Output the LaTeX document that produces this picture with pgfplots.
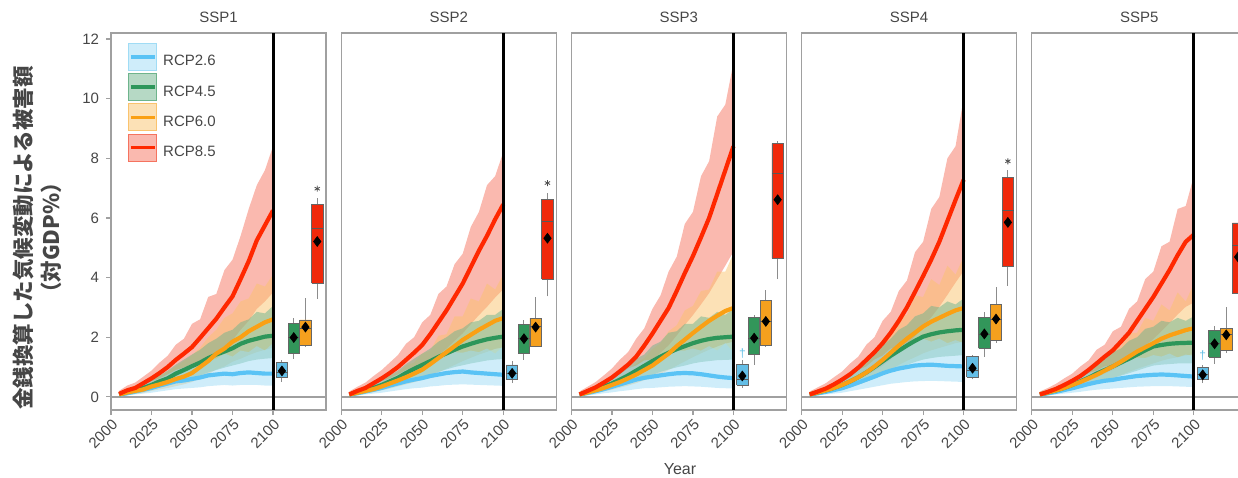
\documentclass[border=0pt]{standalone}
\usepackage{pgfplots}
\pgfplotsset{compat=1.18}
\usepackage{pgfplotstable}
\usepgfplotslibrary{fillbetween}
\usepackage{fontspec}
\setmainfont{Liberation Sans}
\newfontfamily\cjk{Noto Sans CJK JP}

\definecolor{l26}{RGB}{90,195,245}
\definecolor{l45}{RGB}{45,150,90}
\definecolor{l60}{RGB}{250,160,20}
\definecolor{l85}{RGB}{255,40,0}
\definecolor{b26}{RGB}{160,220,245}
\definecolor{b45}{RGB}{110,180,140}
\definecolor{b60}{RGB}{250,195,110}
\definecolor{b85}{RGB}{245,115,95}
\definecolor{x26}{RGB}{100,190,230}
\definecolor{x45}{RGB}{50,150,90}
\definecolor{x60}{RGB}{245,160,30}
\definecolor{x85}{RGB}{240,40,10}
\definecolor{txt}{RGB}{70,70,70}
\definecolor{frame}{RGB}{160,160,160}

% yr, then mean / low / high for RCP2.6, 4.5, 6.0, 8.5
\pgfplotstableread{
yr m26 l26 h26 m45 l45 h45 m60 l60 h60 m85 l85 h85
2005 0.07 0.02 0.15 0.08 0.03 0.15 0.08 0.03 0.16 0.10 0.04 0.20
2010 0.12 0.05 0.25 0.16 0.08 0.26 0.15 0.07 0.28 0.22 0.10 0.38
2015 0.18 0.08 0.34 0.22 0.12 0.35 0.20 0.10 0.38 0.30 0.16 0.48
2020 0.24 0.11 0.40 0.30 0.17 0.45 0.25 0.13 0.45 0.46 0.26 0.68
2025 0.30 0.14 0.52 0.40 0.24 0.58 0.35 0.20 0.58 0.62 0.36 0.88
2030 0.38 0.18 0.62 0.52 0.32 0.72 0.42 0.25 0.70 0.80 0.45 1.15
2035 0.45 0.22 0.75 0.62 0.38 0.88 0.50 0.30 0.85 1.00 0.58 1.38
2040 0.52 0.26 0.90 0.78 0.48 1.08 0.60 0.36 1.02 1.24 0.70 1.75
2045 0.55 0.28 0.98 0.90 0.55 1.25 0.68 0.42 1.20 1.45 0.82 1.95
2050 0.60 0.30 1.10 1.03 0.64 1.42 0.80 0.50 1.40 1.67 0.95 2.45
2055 0.65 0.32 1.12 1.15 0.72 1.58 1.00 0.62 1.65 1.98 1.12 2.60
2060 0.72 0.36 1.30 1.30 0.82 1.80 1.20 0.76 2.00 2.30 1.30 3.35
2065 0.75 0.38 1.28 1.42 0.90 1.95 1.45 0.92 2.25 2.62 1.48 3.45
2070 0.78 0.40 1.45 1.52 0.98 2.15 1.62 1.02 2.65 3.00 1.70 4.25
2075 0.76 0.38 1.35 1.63 1.05 2.25 1.85 1.18 2.80 3.37 1.90 4.60
2080 0.80 0.40 1.55 1.78 1.12 2.50 2.00 1.28 3.20 3.95 2.25 5.40
2085 0.82 0.40 1.50 1.88 1.20 2.60 2.20 1.40 3.30 4.55 2.55 6.30
2090 0.80 0.40 1.70 1.95 1.25 2.85 2.35 1.50 3.80 5.25 2.95 7.10
2095 0.78 0.38 1.55 2.02 1.28 2.80 2.50 1.58 3.70 5.75 3.20 7.60
2100 0.78 0.38 1.80 2.05 1.30 3.05 2.60 1.65 4.10 6.25 3.50 8.40
}\sspone

\pgfplotstableread{
yr m26 l26 h26 m45 l45 h45 m60 l60 h60 m85 l85 h85
2005 0.07 0.02 0.15 0.08 0.03 0.15 0.08 0.03 0.15 0.08 0.04 0.18
2010 0.12 0.05 0.25 0.15 0.08 0.25 0.14 0.08 0.24 0.20 0.10 0.34
2015 0.18 0.08 0.34 0.22 0.12 0.34 0.20 0.12 0.30 0.30 0.16 0.48
2020 0.24 0.11 0.40 0.30 0.17 0.45 0.26 0.16 0.40 0.46 0.26 0.70
2025 0.30 0.14 0.52 0.40 0.24 0.58 0.35 0.22 0.52 0.62 0.35 0.90
2030 0.38 0.18 0.62 0.52 0.32 0.72 0.45 0.28 0.70 0.80 0.45 1.15
2035 0.45 0.22 0.75 0.64 0.40 0.88 0.55 0.35 0.80 1.00 0.56 1.40
2040 0.52 0.26 0.90 0.80 0.50 1.10 0.66 0.42 1.05 1.24 0.70 1.78
2045 0.58 0.29 0.98 0.94 0.59 1.28 0.78 0.49 1.15 1.48 0.83 2.00
2050 0.63 0.31 1.10 1.07 0.67 1.45 0.91 0.57 1.45 1.74 0.97 2.50
2055 0.70 0.35 1.18 1.20 0.75 1.62 1.10 0.69 1.55 2.10 1.18 2.75
2060 0.75 0.37 1.35 1.34 0.84 1.85 1.30 0.82 2.05 2.50 1.40 3.45
2065 0.80 0.40 1.38 1.46 0.92 2.00 1.50 0.95 2.10 2.90 1.62 3.70
2070 0.83 0.41 1.50 1.58 1.00 2.20 1.70 1.07 2.70 3.35 1.88 4.45
2075 0.85 0.42 1.48 1.69 1.06 2.30 1.91 1.20 2.70 3.80 2.13 4.80
2080 0.82 0.41 1.55 1.78 1.12 2.50 2.08 1.31 3.30 4.35 2.44 5.70
2085 0.80 0.40 1.50 1.86 1.17 2.55 2.25 1.42 3.20 4.90 2.74 6.20
2090 0.78 0.39 1.62 1.93 1.22 2.75 2.40 1.51 3.80 5.40 3.02 7.10
2095 0.76 0.38 1.45 1.98 1.25 2.75 2.55 1.61 3.60 5.95 3.33 7.40
2100 0.74 0.37 1.70 2.02 1.27 2.95 2.64 1.66 4.10 6.45 3.60 8.20
}\ssptwo

\pgfplotstableread{
yr m26 l26 h26 m45 l45 h45 m60 l60 h60 m85 l85 h85
2005 0.07 0.02 0.15 0.08 0.03 0.15 0.08 0.03 0.15 0.08 0.04 0.18
2010 0.13 0.05 0.25 0.16 0.08 0.26 0.15 0.08 0.25 0.20 0.11 0.34
2015 0.19 0.08 0.36 0.24 0.14 0.36 0.22 0.13 0.33 0.32 0.18 0.50
2020 0.26 0.12 0.45 0.34 0.20 0.50 0.30 0.18 0.45 0.48 0.28 0.72
2025 0.34 0.15 0.65 0.45 0.27 0.62 0.40 0.24 0.58 0.65 0.38 0.95
2030 0.42 0.19 0.75 0.58 0.36 0.84 0.50 0.31 0.75 0.86 0.50 1.25
2035 0.50 0.22 0.95 0.72 0.45 0.98 0.62 0.38 0.88 1.08 0.63 1.50
2040 0.58 0.26 1.05 0.88 0.55 1.28 0.75 0.46 1.12 1.35 0.78 1.95
2045 0.64 0.29 1.22 1.04 0.64 1.42 0.90 0.56 1.30 1.72 1.00 2.30
2050 0.68 0.30 1.25 1.20 0.74 1.72 1.05 0.65 1.60 2.12 1.23 2.95
2055 0.72 0.32 1.38 1.35 0.84 1.85 1.25 0.77 1.80 2.55 1.48 3.40
2060 0.76 0.34 1.42 1.48 0.92 2.15 1.45 0.90 2.20 2.98 1.73 4.20
2065 0.79 0.35 1.55 1.60 0.99 2.20 1.70 1.05 2.40 3.55 2.06 4.70
2070 0.80 0.36 1.55 1.70 1.05 2.45 1.92 1.19 2.90 4.15 2.41 5.80
2075 0.79 0.35 1.62 1.80 1.12 2.45 2.14 1.33 3.05 4.72 2.74 6.20
2080 0.76 0.34 1.55 1.88 1.17 2.70 2.35 1.46 3.55 5.35 3.10 7.40
2085 0.72 0.32 1.70 1.94 1.20 2.65 2.55 1.58 3.60 6.00 3.48 7.90
2090 0.68 0.30 1.55 1.98 1.23 2.85 2.72 1.69 4.20 6.80 3.94 9.40
2095 0.65 0.29 1.80 2.00 1.24 2.75 2.88 1.79 4.20 7.60 4.40 9.80
2100 0.63 0.28 1.50 2.02 1.25 2.95 2.98 1.85 4.80 8.40 4.87 11.20
}\sspthree

\pgfplotstableread{
yr m26 l26 h26 m45 l45 h45 m60 l60 h60 m85 l85 h85
2005 0.07 0.02 0.15 0.08 0.03 0.15 0.08 0.03 0.15 0.08 0.04 0.18
2010 0.12 0.05 0.22 0.15 0.08 0.24 0.15 0.08 0.24 0.18 0.10 0.32
2015 0.17 0.08 0.32 0.22 0.13 0.33 0.22 0.13 0.33 0.28 0.16 0.46
2020 0.23 0.11 0.40 0.30 0.18 0.45 0.30 0.18 0.48 0.42 0.24 0.66
2025 0.29 0.14 0.55 0.40 0.25 0.58 0.40 0.25 0.58 0.58 0.34 0.85
2030 0.38 0.19 0.66 0.52 0.32 0.76 0.52 0.32 0.82 0.76 0.44 1.12
2035 0.48 0.24 0.90 0.66 0.41 0.95 0.66 0.41 0.95 0.98 0.57 1.35
2040 0.58 0.29 1.02 0.82 0.51 1.20 0.82 0.51 1.30 1.24 0.72 1.75
2045 0.68 0.34 1.25 1.00 0.62 1.42 1.02 0.63 1.45 1.50 0.87 2.00
2050 0.79 0.39 1.38 1.19 0.74 1.72 1.24 0.77 1.95 1.80 1.04 2.55
2055 0.88 0.44 1.62 1.38 0.86 1.95 1.48 0.92 2.10 2.15 1.25 2.85
2060 0.95 0.47 1.65 1.55 0.96 2.25 1.72 1.07 2.70 2.55 1.48 3.55
2065 1.00 0.50 1.82 1.72 1.07 2.40 1.95 1.21 2.75 3.00 1.74 3.90
2070 1.05 0.52 1.80 1.88 1.17 2.70 2.15 1.33 3.40 3.52 2.04 4.85
2075 1.07 0.53 1.95 2.02 1.25 2.80 2.36 1.46 3.35 4.05 2.35 5.20
2080 1.08 0.54 1.85 2.10 1.30 3.05 2.52 1.56 3.95 4.60 2.67 6.30
2085 1.06 0.53 1.95 2.16 1.34 3.00 2.65 1.64 3.75 5.20 3.02 6.70
2090 1.04 0.52 1.80 2.20 1.36 3.20 2.78 1.72 4.40 5.90 3.42 8.00
2095 1.03 0.51 1.90 2.23 1.38 3.10 2.90 1.80 4.10 6.60 3.83 8.40
2100 1.02 0.50 1.80 2.25 1.40 3.30 2.98 1.85 4.70 7.28 4.22 10.00
}\sspfour

\pgfplotstableread{
yr m26 l26 h26 m45 l45 h45 m60 l60 h60 m85 l85 h85
2005 0.07 0.02 0.15 0.08 0.03 0.15 0.08 0.03 0.15 0.08 0.04 0.18
2010 0.12 0.05 0.22 0.15 0.08 0.24 0.15 0.08 0.24 0.17 0.09 0.30
2015 0.17 0.08 0.32 0.22 0.13 0.33 0.22 0.13 0.33 0.27 0.15 0.44
2020 0.23 0.11 0.40 0.30 0.18 0.45 0.30 0.18 0.46 0.40 0.23 0.62
2025 0.29 0.14 0.52 0.40 0.25 0.56 0.40 0.25 0.58 0.54 0.31 0.78
2030 0.36 0.17 0.62 0.52 0.32 0.76 0.50 0.31 0.78 0.70 0.41 1.02
2035 0.43 0.21 0.80 0.64 0.40 0.90 0.62 0.38 0.88 0.90 0.52 1.22
2040 0.49 0.24 0.88 0.78 0.48 1.15 0.74 0.46 1.15 1.12 0.65 1.58
2045 0.54 0.26 1.02 0.90 0.56 1.28 0.88 0.55 1.25 1.35 0.78 1.75
2050 0.57 0.28 1.05 1.02 0.63 1.50 1.02 0.63 1.62 1.56 0.90 2.20
2055 0.62 0.30 1.18 1.15 0.71 1.62 1.18 0.73 1.68 1.85 1.07 2.35
2060 0.66 0.32 1.20 1.28 0.79 1.88 1.35 0.84 2.15 2.15 1.25 2.95
2065 0.70 0.34 1.32 1.42 0.88 2.00 1.52 0.94 2.15 2.55 1.48 3.20
2070 0.72 0.35 1.30 1.56 0.97 2.28 1.66 1.03 2.65 2.95 1.71 3.95
2075 0.74 0.36 1.40 1.69 1.05 2.35 1.80 1.12 2.55 3.35 1.94 4.20
2080 0.75 0.36 1.35 1.74 1.08 2.55 1.95 1.21 3.10 3.80 2.20 5.05
2085 0.74 0.36 1.45 1.78 1.10 2.50 2.06 1.28 2.90 4.25 2.47 5.20
2090 0.72 0.35 1.32 1.80 1.12 2.65 2.15 1.33 3.50 4.75 2.76 6.30
2095 0.70 0.34 1.42 1.81 1.12 2.55 2.24 1.39 3.20 5.20 3.02 6.40
2100 0.68 0.33 1.35 1.82 1.13 2.70 2.30 1.43 3.80 5.44 3.16 7.40
}\sspfive

% x axis runs in years after 2000
\pgfplotsset{
  panel/.style={
    scale only axis, width=107.5pt, height=188.5pt,
    xmin=0, xmax=132.7, ymin=-0.44, ymax=12.2,
    axis line style={frame, line width=0.6pt},
    xtick={0,25,50,75,100},
    xticklabels={2000,2025,2050,2075,2100},
    xtick pos=left, ytick pos=left,
    tick align=outside, major tick length=2.5pt,
    every tick/.style={frame, line width=0.6pt},
    tick label style={font=\fontsize{7.5}{8}\selectfont, text=txt},
    xticklabel style={rotate=45, anchor=north east, inner sep=1pt},
    /pgf/number format/assume math mode=true,
    title style={font=\fontsize{7.5}{8}\selectfont, text=txt, at={(0.5,1)}, anchor=base, yshift=-1pt},
  },
}

\newcommand{\band}[3]{%
  \addplot[name path=hi#2, draw=none, forget plot] table[x expr=\thisrow{yr}-2000, y=h#2] {#1};
  \addplot[name path=lo#2, draw=none, forget plot] table[x expr=\thisrow{yr}-2000, y=l#2] {#1};
  \addplot[fill=#3, fill opacity=0.5, draw=none, forget plot] fill between[of=hi#2 and lo#2];
}
\newcommand{\mline}[3]{%
  \addplot[#3, line width=2.1pt, line join=round, forget plot] table[x expr=\thisrow{yr}-2000, y=m#2] {#1};
}
\newcommand{\series}[1]{%
  \addplot[frame, line width=1pt, forget plot] coordinates {(0,0) (132.7,0)};
  \band{#1}{85}{b85}\band{#1}{60}{b60}\band{#1}{45}{b45}\band{#1}{26}{b26}
  \mline{#1}{26}{l26}\mline{#1}{45}{l45}\mline{#1}{60}{l60}\mline{#1}{85}{l85}
  \addplot[black, line width=1.5pt, forget plot] coordinates {(100,-0.44) (100,12.2)};
}
% box: left, centre, right, colour, lower whisker, lower quartile, median, upper quartile, upper whisker
\newcommand{\bx}[9]{%
  \addplot[black!45, line width=0.5pt, forget plot] coordinates {(#2,#5) (#2,#6)};
  \addplot[black!45, line width=0.5pt, forget plot] coordinates {(#2,#8) (#2,#9)};
  \addplot[fill=#4, draw=black!60, line width=0.4pt, forget plot] coordinates {(#1,#6) (#3,#6) (#3,#8) (#1,#8) (#1,#6)};
  \addplot[black!65, line width=0.4pt, forget plot] coordinates {(#1,#7) (#3,#7)};
}
\newcommand{\means}[4]{%
  \addplot[only marks, mark=diamond*, mark size=2.4pt, black, forget plot] coordinates {(105.5,#1) (112.8,#2) (120.0,#3) (127.3,#4)};
}

\begin{document}
\begin{tikzpicture}

\begin{axis}[panel, at={(55.5pt,33.5pt)}, anchor=south west, title={SSP1},
  ytick={0,2,4,6,8,10,12},
  legend cell align=left,
  legend style={at={(0.079,0.9745)}, anchor=north west, draw=none, fill=none,
    inner sep=0pt, row sep=1.2pt, font=\fontsize{7.5}{8}\selectfont, text=txt,
    nodes={inner xsep=3pt, inner ysep=0pt}}]
\addlegendimage{legend image code/.code={\fill[b26, fill opacity=0.5] (0pt,-4.15pt) rectangle (14pt,9.35pt); \draw[l26, line width=1.8pt] (1pt,2.6pt) -- (13pt,2.6pt);}}
\addlegendentry{RCP2.6}
\addlegendimage{legend image code/.code={\fill[b45, fill opacity=0.5] (0pt,-4.15pt) rectangle (14pt,9.35pt); \draw[l45, line width=1.8pt] (1pt,2.6pt) -- (13pt,2.6pt);}}
\addlegendentry{RCP4.5}
\addlegendimage{legend image code/.code={\fill[b60, fill opacity=0.5] (0pt,-4.15pt) rectangle (14pt,9.35pt); \draw[l60, line width=1.8pt] (1pt,2.6pt) -- (13pt,2.6pt);}}
\addlegendentry{RCP6.0}
\addlegendimage{legend image code/.code={\fill[b85, fill opacity=0.5] (0pt,-4.15pt) rectangle (14pt,9.35pt); \draw[l85, line width=1.8pt] (1pt,2.6pt) -- (13pt,2.6pt);}}
\addlegendentry{RCP8.5}
\series{\sspone}
\bx{102.0}{105.5}{109.0}{x26}{0.51}{0.64}{0.82}{1.14}{1.24}
\bx{109.3}{112.8}{116.3}{x45}{1.28}{1.47}{2.00}{2.47}{2.64}
\bx{116.5}{120.0}{123.5}{x60}{1.69}{1.71}{2.30}{2.58}{3.31}
\bx{123.8}{127.3}{130.8}{x85}{3.29}{3.81}{5.66}{6.44}{6.67}
\means{0.87}{1.99}{2.34}{5.21}
\addplot[only marks, mark=asterisk, mark size=1.5pt, black!70, forget plot] coordinates {(127.3,6.98)};
\end{axis}

\begin{axis}[panel, at={(170.6pt,33.5pt)}, anchor=south west, title={SSP2}, ytick=\empty]
\series{\ssptwo}
\bx{102.0}{105.5}{109.0}{x26}{0.46}{0.57}{0.78}{1.07}{1.19}
\bx{109.3}{112.8}{116.3}{x45}{1.24}{1.47}{1.95}{2.44}{2.58}
\bx{116.5}{120.0}{123.5}{x60}{1.67}{1.69}{2.35}{2.64}{3.35}
\bx{123.8}{127.3}{130.8}{x85}{3.37}{3.94}{5.88}{6.61}{6.85}
\means{0.79}{1.95}{2.34}{5.32}
\addplot[only marks, mark=asterisk, mark size=1.5pt, black!70, forget plot] coordinates {(127.3,7.17)};
\end{axis}

\begin{axis}[panel, at={(285.7pt,33.5pt)}, anchor=south west, title={SSP3}, ytick=\empty]
\series{\sspthree}
\bx{102.0}{105.5}{109.0}{x26}{0.31}{0.40}{0.57}{1.10}{1.24}
\bx{109.3}{112.8}{116.3}{x45}{1.07}{1.41}{1.97}{2.67}{2.75}
\bx{116.5}{120.0}{123.5}{x60}{1.69}{1.71}{2.53}{3.23}{3.59}
\bx{123.8}{127.3}{130.8}{x85}{3.95}{4.65}{7.48}{8.49}{8.57}
\means{0.70}{1.97}{2.53}{6.61}
\addplot[only marks, mark=text, text mark={\fontsize{6}{6}\selectfont\color{x26}†}, forget plot] coordinates {(105.5,1.45)};
\end{axis}

\begin{axis}[panel, at={(400.8pt,33.5pt)}, anchor=south west, title={SSP4}, ytick=\empty]
\series{\sspfour}
\bx{102.0}{105.5}{109.0}{x26}{0.59}{0.66}{0.90}{1.35}{1.41}
\bx{109.3}{112.8}{116.3}{x45}{1.35}{1.63}{2.11}{2.67}{2.86}
\bx{116.5}{120.0}{123.5}{x60}{1.82}{1.91}{2.61}{3.11}{3.70}
\bx{123.8}{127.3}{130.8}{x85}{3.72}{4.37}{6.25}{7.37}{7.60}
\means{0.96}{2.11}{2.61}{5.85}
\addplot[only marks, mark=asterisk, mark size=1.5pt, black!70, forget plot] coordinates {(127.3,7.90)};
\end{axis}

\begin{axis}[panel, at={(515.9pt,33.5pt)}, anchor=south west, title={SSP5}, ytick=\empty]
\series{\sspfive}
\bx{102.0}{105.5}{109.0}{x26}{0.46}{0.57}{0.74}{0.98}{1.07}
\bx{109.3}{112.8}{116.3}{x45}{1.11}{1.33}{1.78}{2.23}{2.36}
\bx{116.5}{120.0}{123.5}{x60}{1.47}{1.55}{2.08}{2.30}{3.03}
\bx{123.8}{127.3}{130.8}{x85}{3.00}{3.48}{5.07}{5.83}{6.00}
\means{0.74}{1.78}{2.08}{4.69}
\addplot[only marks, mark=text, text mark={\fontsize{6}{6}\selectfont\color{x26}†}, forget plot] coordinates {(105.5,1.40)};
\end{axis}

\node[rotate=90, font=\cjk\bfseries\fontsize{10.75}{12}\selectfont, text=txt] at (11.5pt,119.5pt) {金銭換算した気候変動による被害額};
\node[rotate=90, font=\cjk\bfseries\fontsize{10.75}{12}\selectfont, text=txt] at (25.5pt,119.5pt) {（対GDP\%）};
\node[anchor=base, font=\fontsize{8}{9}\selectfont, text=txt] at (340pt,1.5pt) {Year};

\pgfresetboundingbox
\path[use as bounding box] (0pt,0pt) rectangle (619pt,238.5pt);
\end{tikzpicture}
\end{document}
